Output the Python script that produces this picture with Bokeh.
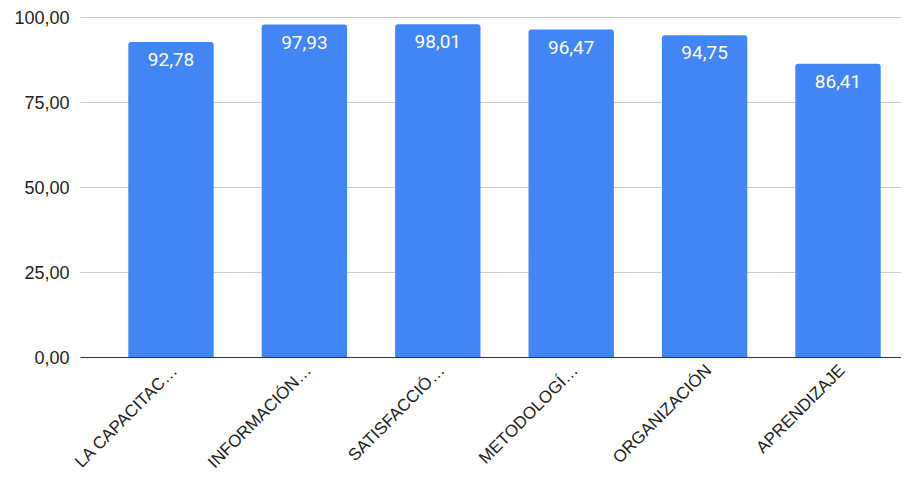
import math
from bokeh.plotting import figure
from bokeh.models import Range1d, ColumnDataSource
from bokeh.core.properties import value
from bokeh.embed import file_html
from bokeh.resources import INLINE

categories = ["LA CAPACITAC…", "INFORMACIÓN…", "SATISFACCIÓ…", "METODOLOGÍ…", "ORGANIZACIÓN", "APRENDIZAJE"]
values = [92.78, 97.93, 98.01, 96.47, 94.75, 86.41]
value_labels = ["92,78", "97,93", "98,01", "96,47", "94,75", "86,41"]
y_ticks = [0, 25, 50, 75, 100]
y_tick_labels = ["0,00", "25,00", "50,00", "75,00", "100,00"]

xs = [i + 0.5 for i in range(len(categories))]
src = ColumnDataSource(dict(x=xs, top=values, lab=value_labels,
                            cat=categories, zero=[0] * len(categories)))

# whole canvas is the frame: 133.4 px per category, category 0 starts at 103.8 px
# 100 at y=17px, 0 at y=357px (3.4 px per unit)
X0, X1 = -103.8 / 133.4, (901 - 103.8) / 133.4
GRID_X0 = (80 - 103.8) / 133.4
p = figure(width=901, height=477, output_backend="svg", toolbar_location=None,
           x_range=Range1d(X0, X1), y_range=Range1d(-120 / 3.4, 100 + 17 / 3.4),
           min_border_left=0, min_border_right=0, min_border_top=0, min_border_bottom=0)
p.outline_line_color = None
p.background_fill_color = "white"
p.border_fill_color = "white"
p.xaxis.visible = False
p.yaxis.visible = False
p.xgrid.grid_line_color = None
p.ygrid.grid_line_color = None

grid = ColumnDataSource(dict(y=y_ticks, lab=y_tick_labels,
                             x0=[GRID_X0] * len(y_ticks), x1=[X1] * len(y_ticks)))
p.segment(x0="x0", y0="y", x1="x1", y1="y", source=grid, line_color="#cccccc", line_width=1)
p.text(x="x0", y="y", text="lab", source=grid, text_align="right", text_baseline="middle",
       text_font=value("Arial"), text_font_size="18px", text_color="#222222", x_offset=-11)

p.vbar(x="x", top="top", width=0.64, bottom=0, source=src, fill_color="#4285F4",
       line_color=None, border_radius=(3, 3, 0, 0))
p.text(x="x", y="top", text="lab", source=src, text_color="white",
       text_font=value("Roboto"), text_font_size="19px", text_align="center",
       text_baseline="top", y_offset=11)

p.segment(x0=[GRID_X0], y0=[0], x1=[X1], y1=[0], line_color="#333333", line_width=1)

p.text(x="x", y="zero", text="cat", source=src, angle=math.pi / 4,
       text_align="right", text_baseline="middle",
       text_font=value("Arial"), text_font_size="17px",
       text_color="#222222", x_offset=4, y_offset=10)

open("out.html", "w").write(file_html(p, INLINE))
